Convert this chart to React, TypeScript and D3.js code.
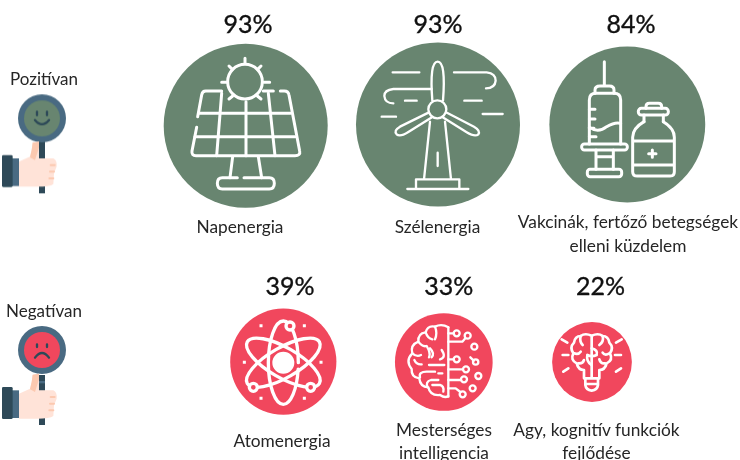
import React from "react";
import * as d3 from "d3";

const posCategories = [["Napenergia"], ["Szélenergia"], ["Vakcinák, fertőző betegségek", "elleni küzdelem"]];
const posValues = [93, 93, 84];
const negCategories = [["Atomenergia"], ["Mesterséges", "intelligencia"], ["Agy, kognitív funkciók", "fejlődése"]];
const negValues = [39, 33, 22];
const rowLabels = ["Pozitívan", "Negatívan"];

const GREEN = "#67856f";
const RED = "#f1475d";
const FONT = "Lato, 'Open Sans', sans-serif";
const radius = d3.scaleSqrt().domain([0, 93]).range([0, 82]);

const layoutPos = [
  { cx: 245.7, cy: 125.8, vx: 248, vy: 33, lx: 240, ly: [233] },
  { cx: 438, cy: 124.5, vx: 438, vy: 33, lx: 437.5, ly: [233] },
  { cx: 627.3, cy: 124.5, vx: 631, vy: 33, lx: 628, ly: [228, 252] },
];
const layoutNeg = [
  { cx: 283.3, cy: 361.7, vx: 290, vy: 295, lx: 282, ly: [447] },
  { cx: 443.8, cy: 362, vx: 448.7, vy: 295, lx: 444, ly: [436, 459] },
  { cx: 592, cy: 362, vx: 600.5, vy: 295, lx: 596.5, ly: [436, 459] },
];

const Ic = ({ x, y, w = 8, children }: any) => (
  <g transform={`translate(${x},${y}) scale(${1 / 3})`} fill="none" stroke="#fff" strokeWidth={w} strokeLinecap="round" strokeLinejoin="round">
    {children}
  </g>
);

const Solar = () => (
  <Ic x={160} y={10} w={9}>
    <circle cx={255} cy={215} r={52} />
    <path d="M255 145V160M207 168L217 178M303 168L293 178M185 217H200M312 217H329M207 267L218 258M303 267L292 258" />
    <path d="M185 243H137Q127 243 125 255L113 320M110 352L96 423Q94 437 108 437H405Q422 437 419 423L387 255Q385 243 373 243H361M310 243H340" />
    <path d="M118 310H392M105 380H405M185 250L170 437M258 275V437M325 250L345 437M218 440L210 503M295 440L305 503" />
    <path d="M232 503H187Q172 503 172 520Q172 537 187 537H328Q343 537 343 520Q343 503 328 503H252" />
  </Ic>
);

const Wind = () => (
  <Ic x={350} y={10} w={7}>
    <circle cx={262} cy={298} r={27} />
    <path d="M247 272Q238 155 263 155Q288 155 279 272" />
    <path d="M237 307L150 350Q130 362 140 373Q150 382 175 366L246 322" />
    <path d="M288 307L372 350Q392 362 385 373Q375 382 350 367L278 322" />
    <path d="M240 335L222 508M285 335L303 508M198 537V508H328V537M172 537H355M263 428V468" />
    <path d="M128 187H208M312 187H410Q437 190 437 212Q435 235 408 235M245 237H130Q103 240 103 258Q105 280 130 280M165 272H200M343 272H395M95 320H138M398 312H458" />
  </Ic>
);

const Vaccine = () => (
  <Ic x={540} y={10} w={9}>
    <path d="M193 155V226M165 250V240Q165 228 180 228H208Q222 228 222 240V250" />
    <path d="M148 402V270Q148 250 168 250H222Q242 250 242 270V402" />
    <rect x={125} y={402} width={137} height={18} rx={8} />
    <path d="M168 420V478M220 420V478M168 440H220" />
    <rect x={142} y={478} width={103} height={22} rx={8} />
    <path d="M148 298H165M148 327H165M148 355H162M148 380H168M148 352Q175 370 200 350Q225 335 242 340" />
    <rect x={295} y={295} width={90} height={20} rx={9} />
    <path d="M318 295V290Q318 280 328 280H355Q365 280 365 290V295M312 315V335M370 315V335" />
    <path d="M312 335Q278 355 278 382V485Q278 498 292 498H390Q403 498 403 485V382Q403 355 370 335M278 393H403M278 465H403" />
    <path d="M337 420V442M326 431H348" strokeWidth={9} />
  </Ic>
);

const Atom = () => (
  <Ic x={220} y={270} w={10}>
    <ellipse cx={190} cy={278} rx={45} ry={125} strokeDasharray="640 40" strokeDashoffset={-20} />
    <ellipse cx={190} cy={278} rx={45} ry={125} transform="rotate(60 190 278)" strokeDasharray="590 60" />
    <ellipse cx={190} cy={278} rx={45} ry={125} transform="rotate(-60 190 278)" strokeDasharray="590 60" />
    <circle cx={190} cy={278} r={28} strokeWidth={10} fill="#fff" />
    <g fill={RED}>
      <circle cx={210} cy={168} r={12} />
      <circle cx={100} cy={352} r={12} />
      <circle cx={272} cy={352} r={12} />
    </g>
    <path d="M123 167h.1M253 167h.1M73 277h.1M303 277h.1M123 385h.1M253 385h.1" strokeLinecap="square" strokeWidth={9} />
  </Ic>
);

const AI = () => (
  <Ic x={385} y={270} w={7}>
    <path d="M190 172V380" />
    <path d="M190 172Q170 160 150 170Q128 165 122 187Q98 190 100 215Q75 225 82 250Q60 272 80 297Q78 322 103 325Q105 350 130 352Q135 378 165 375Q180 385 190 378" />
    <path d="M150 170Q158 190 150 208M122 187Q128 205 142 208M100 215Q112 232 125 228Q138 250 132 262M82 250Q95 262 108 255M170 240Q185 262 165 268M135 235Q150 250 140 262M88 270Q95 285 110 283M132 285H178M105 322Q100 305 125 305H150M160 310H172M128 352Q120 335 138 330H160M142 345H165Q178 348 175 365" />
    <path d="M190 190H206M190 215H232L241 205M190 268H206M190 298H234M190 330H228M190 355H212L226 366" />
    <g>
      <circle cx={215} cy={190} r={9} />
      <circle cx={248} cy={197} r={9} />
      <circle cx={268} cy={230} r={9} />
      <circle cx={215} cy={268} r={9} />
      <circle cx={272} cy={276} r={8} />
      <circle cx={243} cy={298} r={9} />
      <circle cx={237} cy={328} r={9} />
      <circle cx={280} cy={318} r={9} />
      <circle cx={263} cy={355} r={9} />
      <circle cx={233} cy={373} r={9} />
    </g>
    <path d="M256 262L266 272" />
  </Ic>
);

const Bulb = () => (
  <Ic x={510} y={270} w={8}>
    <path d="M155 208L172 218M158 255H175M160 305L175 295M335 208L318 218M333 255H315M333 295L318 305" />
    <path d="M245 197Q225 188 212 198Q195 198 192 218Q178 232 190 250Q180 270 200 280Q205 300 222 300L222 325H268L268 300Q285 300 290 280Q310 270 300 250Q312 232 298 218Q295 198 278 198Q265 188 245 197V325" />
    <path d="M212 198Q208 215 218 225M192 250Q205 255 212 245M278 198Q282 215 268 225M245 235Q265 240 260 255Q245 262 232 255Q228 275 245 285M298 250Q285 258 278 248M205 280Q218 282 222 270M285 280Q272 282 268 268" />
    <path d="M226 325V345Q228 360 245 362Q262 360 264 345V325M228 342H262" />
  </Ic>
);

const Hand = ({ y, inner, negative }: any) => (
  <g transform={`translate(0,${y}) scale(${1 / 3})`}>
    <rect x={117} y={240} width={18} height={negative ? 150 : 160} fill="#2d4a58" />
    {negative && <rect x={117} y={258} width={18} height={7} fill="#4a6b82" />}
    <circle cx={126} cy={negative ? 165 : 175} r={72} fill="#4a6b82" />
    <circle cx={126} cy={negative ? 165 : 175} r={54} fill={inner} />
    {negative ? (
      <g fill="none" stroke="#2d4a58" strokeWidth={7} strokeLinecap="round">
        <path d="M105 188Q126 160 147 188" />
        <path d="M111 148V156M141 148V156" />
      </g>
    ) : (
      <g fill="none" stroke="#2d4a58" strokeWidth={7} strokeLinecap="round">
        <path d="M105 180Q126 205 147 180" />
        <path d="M111 155V165M141 155V165" />
      </g>
    )}
    <g transform={negative ? "translate(0,-9)" : ""}>
      <path d="M57 305L90 290Q96 270 98 248L117 245V295H160Q172 300 170 320L162 340L160 372Q150 380 110 380H57Z" fill="#ffe3d8" />
      <path d="M98 248L117 245V262L105 300L90 292Q96 270 98 248Z" fill="#fcc9b0" />
      <path d="M152 315H164M150 335H162M148 355H160" stroke="#fcc9b0" strokeWidth={6} strokeLinecap="round" />
      <rect x={36} y={295} width={21} height={83} fill="#4a6b82" />
      <rect x={6} y={285} width={32} height={96} rx={4} fill="#2d4a58" />
    </g>
  </g>
);

const icons = [[Solar, Wind, Vaccine], [Atom, AI, Bulb]];

export default function App() {
  const rows = [
    { cats: posCategories, vals: posValues, lay: layoutPos, color: GREEN, icons: icons[0] },
    { cats: negCategories, vals: negValues, lay: layoutNeg, color: RED, icons: icons[1] },
  ];
  return (
    <svg width={740} height={460} viewBox="0 0 740 460" style={{ position: "fixed", left: 0, top: 0, background: "#fff" }} fontFamily={FONT}>
      <defs>
        <filter id="soft" x="-5%" y="-5%" width="110%" height="110%">
          <feGaussianBlur stdDeviation={0.35} />
        </filter>
      </defs>
      <g filter="url(#soft)">
        {rows.map((row, i) =>
          row.vals.map((v, j) => {
            const l = row.lay[j];
            const Icon = row.icons[j];
            return (
              <g key={`${i}-${j}`}>
                <circle cx={l.cx} cy={l.cy} r={radius(v)} fill={row.color} />
                <Icon />
              </g>
            );
          })
        )}
        <Hand y={60} inner={GREEN} />
        <Hand y={295} inner={RED} negative />
      </g>
      {rows.map((row, i) =>
        row.vals.map((v, j) => {
          const l = row.lay[j];
          return (
            <g key={`t${i}-${j}`} textAnchor="middle" fill="#111">
              <text x={l.vx} y={l.vy} fontSize={25} stroke="#111" strokeWidth={0.35}>{v}%</text>
              {row.cats[j].map((c, k) => (
                <text key={k} x={l.lx} y={l.ly[k]} fontSize={17.3} fill="#262626">{c}</text>
              ))}
            </g>
          );
        })
      )}
      <text x={44} y={85} fontSize={17} textAnchor="middle" fill="#262626">{rowLabels[0]}</text>
      <text x={44} y={317} fontSize={17} textAnchor="middle" fill="#262626">{rowLabels[1]}</text>
    </svg>
  );
}
